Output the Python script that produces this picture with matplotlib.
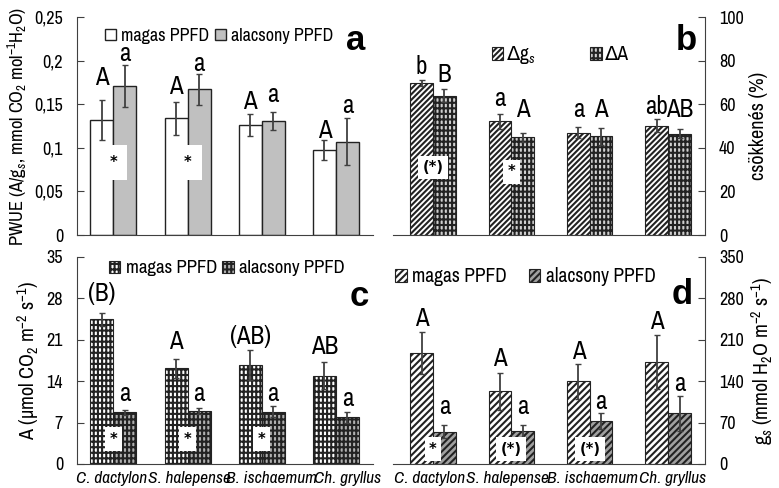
import matplotlib
matplotlib.use('Agg')
import matplotlib.pyplot as plt
from matplotlib import font_manager
from matplotlib.ticker import FuncFormatter
from matplotlib.transforms import ScaledTranslation
import numpy as np

# look for a narrow sans font (the original uses an Arial Narrow-like face)
ttf = font_manager.fontManager.ttflist
names = {f.name for f in ttf}
fam = None
stretch = 'normal'
for p in ['Liberation Sans Narrow', 'Arial Narrow', 'Archivo Narrow', 'Roboto Condensed',
          'PT Sans Narrow', 'Noto Sans Condensed', 'DejaVu Sans Condensed']:
    if p in names:
        fam = p
        break
if fam is None:
    for base in ['Noto Sans', 'DejaVu Sans', 'Roboto', 'Open Sans']:
        if any(f.name == base and f.stretch == 'condensed' and f.style == 'normal'
               for f in ttf):
            fam, stretch = base, 'condensed'
            break
if fam is None:
    fam = 'Liberation Sans'

plt.rcParams['font.family'] = [fam, 'DejaVu Sans']
plt.rcParams['font.stretch'] = stretch
plt.rcParams['mathtext.fontset'] = 'custom'
plt.rcParams['mathtext.rm'] = fam
plt.rcParams['mathtext.it'] = fam + ':italic'
plt.rcParams['mathtext.sf'] = 'DejaVu Sans'
plt.rcParams['hatch.linewidth'] = 1.5

species = ['C. dactylon', 'S. halepense', 'B. ischaemum', 'Ch. gryllus']

# a) PWUE at high / low PPFD
pwue_high = [0.132, 0.134, 0.126, 0.098]
pwue_high_err = [0.023, 0.019, 0.013, 0.0115]
pwue_low = [0.171, 0.167, 0.131, 0.107]
pwue_low_err = [0.024, 0.018, 0.010, 0.027]
pwue_letters_high = ['A', 'A', 'A', 'A']
pwue_letters_high_y = [0.181, 0.170, 0.153, 0.120]
pwue_letters_low = ['a', 'a', 'a', 'a']
pwue_letters_low_y = [0.208, 0.197, 0.161, 0.149]

# b) decrease of gs and A (%)
dec_gs = [69.8, 52.2, 47.0, 50.2]
dec_gs_err = [1.5, 3.5, 2.6, 2.8]
dec_a = [64.0, 44.8, 45.3, 46.5]
dec_a_err = [3.0, 2.0, 4.0, 2.2]
dec_letters_gs = ['b', 'a', 'a', 'ab']
dec_letters_gs_y = [77.5, 62.8, 57.4, 59.0]
dec_letters_a = ['B', 'A', 'A', 'AB']
dec_letters_a_y = [73.6, 57.4, 57.4, 57.4]

# c) assimilation A
a_high = [24.5, 16.15, 16.7, 14.9]
a_high_err = [1.1, 1.6, 2.5, 2.3]
a_low = [8.75, 8.9, 8.87, 7.9]
a_low_err = [0.4, 0.5, 0.95, 0.9]
a_letters_high = ['(B)', 'A', '(AB)', 'AB']
a_letters_high_y = [28.9, 20.7, 21.6, 19.9]
a_letters_low = ['a', 'a', 'a', 'a']
a_letters_low_y = [12.0, 12.0, 12.0, 11.1]

# d) stomatal conductance gs
gs_high = [187.5, 123.0, 139.5, 172.2]
gs_high_err = [35.0, 31.6, 30.0, 46.0]
gs_low = [54.8, 55.9, 72.8, 85.8]
gs_low_err = [10.7, 9.6, 13.0, 29.4]
gs_letters_high = ['A', 'A', 'A', 'A']
gs_letters_high_y = [246.8, 179.0, 190.0, 241.0]
gs_letters_low = ['a', 'a', 'a', 'a']
gs_letters_low_y = [97.0, 97.0, 105.6, 136.6]

# significance marks between treatments
stars_a = ['*', '*', '', '']
stars_a_y = 0.083
stars_b = ['(*)', '*', '', '']
stars_b_y = [31, 29, 0, 0]
stars_c = ['*', '*', '*', '']
stars_c_y = 4.2
stars_d = ['*', '(*)', '(*)', '']
stars_d_y = 25

x = np.arange(len(species))
dark = '#222222'
spine_col = '#404040'


def comma(v, pos):
    return ('%g' % v).replace('.', ',')


def panel(ax, v1, e1, v2, e2, st1, st2, width, ylim, yticks, right):
    b1 = ax.bar(x - width / 2, v1, width, **st1)
    b2 = ax.bar(x + width / 2, v2, width, **st2)
    ax.errorbar(x - width / 2, v1, yerr=e1, fmt='none', ecolor=spine_col,
                elinewidth=1.3, capsize=2.5, capthick=1.0)
    ax.errorbar(x + width / 2, v2, yerr=e2, fmt='none', ecolor=spine_col,
                elinewidth=1.3, capsize=2.5, capthick=1.0)
    ax.set_ylim(*ylim)
    ax.set_yticks(yticks)
    ax.yaxis.set_major_formatter(FuncFormatter(comma))
    ax.spines['top'].set_visible(False)
    for s in ['left', 'right', 'bottom']:
        ax.spines[s].set_color(spine_col)
    if right:
        ax.spines['left'].set_visible(False)
        ax.yaxis.tick_right()
        ax.yaxis.set_label_position('right')
    else:
        ax.spines['right'].set_visible(False)
    ax.tick_params(axis='y', direction='in', length=5, color=spine_col,
                   labelsize=13, pad=10)
    ax.tick_params(axis='x', length=0, pad=5)
    ax.set_xticks(x)
    return b1, b2


def letters(ax, xs, labels, ys):
    for xi, t, yi in zip(xs, labels, ys):
        ax.text(xi, yi, t, ha='center', va='center', fontsize=18)


def stars(ax, labels, ys, pad):
    if not isinstance(ys, list):
        ys = [ys] * len(labels)
    for xi, t, yi in zip(x, labels, ys):
        if t:
            ax.text(xi, yi, t, ha='center', va='center', fontsize=10.5,
                    fontweight='bold', family='DejaVu Sans',
                    bbox=dict(boxstyle='square,pad=%g' % pad, fc='white', ec='none'))


def panel_letter(ax, t, px, py):
    ax.text(px, py, t, transform=ax.transAxes, ha='center', va='center',
            fontsize=25, fontweight='bold', family=['Liberation Sans', 'DejaVu Sans'])


def species_labels(ax, shifts):
    ax.set_xticklabels(species, style='italic', fontsize=12.5)
    for lab, dx in zip(ax.get_xticklabels(), shifts):
        lab.set_transform(lab.get_transform() + ScaledTranslation(dx / 100, 0, fig.dpi_scale_trans))


fig = plt.figure(figsize=(7.79, 4.88), dpi=100)
ax_a = fig.add_axes([0.0988, 0.5184, 0.380, 0.4467])
ax_b = fig.add_axes([0.5045, 0.5184, 0.4005, 0.4467])
ax_c = fig.add_axes([0.0988, 0.0492, 0.380, 0.4242])
ax_d = fig.add_axes([0.5045, 0.0492, 0.4005, 0.4242])

wl = 0.31  # bar width, left panels
wr = 0.29  # bar width, right panels

# panel a
st_white = dict(color='white', edgecolor=dark, linewidth=1.0)
st_grey = dict(color='#c0c0c0', edgecolor=dark, linewidth=1.0)
h1, h2 = panel(ax_a, pwue_high, pwue_high_err, pwue_low, pwue_low_err,
               st_white, st_grey, wl, (0, 0.25), [0, 0.05, 0.1, 0.15, 0.2, 0.25], False)
ax_a.set_xlim(-0.49, 3.5)
ax_a.set_xticklabels([])
letters(ax_a, x - wl / 2, pwue_letters_high, pwue_letters_high_y)
letters(ax_a, x + wl / 2, pwue_letters_low, pwue_letters_low_y)
stars(ax_a, stars_a, stars_a_y, 0.7)
ax_a.set_ylabel('PWUE (A/g$_s$, mmol CO$_2$ mol$^{-1}$H$_2$O)', fontsize=13.3, labelpad=4)
ax_a.legend([h1, h2], ['magas PPFD', 'alacsony PPFD'], loc='upper left',
            bbox_to_anchor=(0.04, 1.025), ncol=2, frameon=False, fontsize=13,
            handlelength=0.6, handleheight=0.6, handletextpad=0.3, columnspacing=0.3)
panel_letter(ax_a, 'a', 0.943, 0.894)

# panel b
st_diag = dict(color='white', edgecolor=dark, linewidth=0.8, hatch='//////')
st_grid = dict(color='#d0d0d0', edgecolor=dark, linewidth=0.8, hatch='||||---')
h1, h2 = panel(ax_b, dec_gs, dec_gs_err, dec_a, dec_a_err, st_diag, st_grid,
               wr, (0, 100), [0, 20, 40, 60, 80, 100], True)
ax_b.set_xlim(-0.51, 3.47)
ax_b.set_xticklabels([])
letters(ax_b, x - wr / 2, dec_letters_gs, dec_letters_gs_y)
letters(ax_b, x + wr / 2, dec_letters_a, dec_letters_a_y)
stars(ax_b, stars_b, stars_b_y, 0.3)
ax_b.set_ylabel('csökkenés (%)', fontsize=14.5, labelpad=4)
ax_b.legend([h1, h2], ['$\\mathsf{\\Delta}$g$_s$', 'ΔA'], loc='upper left',
            bbox_to_anchor=(0.26, 0.955), ncol=2, frameon=False, fontsize=14,
            handlelength=0.6, handleheight=0.6, handletextpad=0.15, columnspacing=2.8)
panel_letter(ax_b, 'b', 0.939, 0.894)

# panel c
st_grid_w = dict(color='white', edgecolor=dark, linewidth=0.8, hatch='||||---')
st_grid_g = dict(color='#b0b0b0', edgecolor=dark, linewidth=0.8, hatch='||||---')
h1, h2 = panel(ax_c, a_high, a_high_err, a_low, a_low_err, st_grid_w, st_grid_g,
               wl, (0, 35), [0, 7, 14, 21, 28, 35], False)
ax_c.set_xlim(-0.49, 3.5)
species_labels(ax_c, [-2, 2, 10, 12])
letters(ax_c, x - wl / 2, a_letters_high, a_letters_high_y)
letters(ax_c, x + wl / 2, a_letters_low, a_letters_low_y)
stars(ax_c, stars_c, stars_c_y, 0.3)
ax_c.set_ylabel('A (µmol CO$_2$ m$^{-2}$ s$^{-1}$)', fontsize=14.5, labelpad=4)
ax_c.legend([h1, h2], ['magas PPFD', 'alacsony PPFD'], loc='upper left',
            bbox_to_anchor=(0.05, 1.065), ncol=2, frameon=False, fontsize=13.5,
            handlelength=0.6, handleheight=0.6, handletextpad=0.3, columnspacing=0.3)
panel_letter(ax_c, 'c', 0.953, 0.807)

# panel d
st_diag_w = dict(color='white', edgecolor=dark, linewidth=0.8, hatch='/////')
st_diag_g = dict(color='#a0a0a0', edgecolor=dark, linewidth=0.8, hatch='/////')
h1, h2 = panel(ax_d, gs_high, gs_high_err, gs_low, gs_low_err, st_diag_w, st_diag_g,
               wr, (0, 350), [0, 70, 140, 210, 280, 350], True)
ax_d.set_xlim(-0.51, 3.47)
species_labels(ax_d, [-3, -4, 3, 4])
letters(ax_d, x - wr / 2, gs_letters_high, gs_letters_high_y)
letters(ax_d, x + wr / 2, gs_letters_low, gs_letters_low_y)
stars(ax_d, stars_d, stars_d_y, 0.3)
ax_d.set_ylabel('g$_s$ (mmol H$_2$O m$^{-2}$ s$^{-1}$)', fontsize=14.5, labelpad=4)
ax_d.legend([h1, h2], ['magas PPFD', 'alacsony PPFD'], loc='upper left',
            bbox_to_anchor=(-0.05, 1.035), ncol=2, frameon=False, fontsize=14,
            handlelength=0.6, handleheight=0.6, handletextpad=0.3, columnspacing=1.1)
panel_letter(ax_d, 'd', 0.926, 0.82)

fig.savefig('out.png', dpi=100)
